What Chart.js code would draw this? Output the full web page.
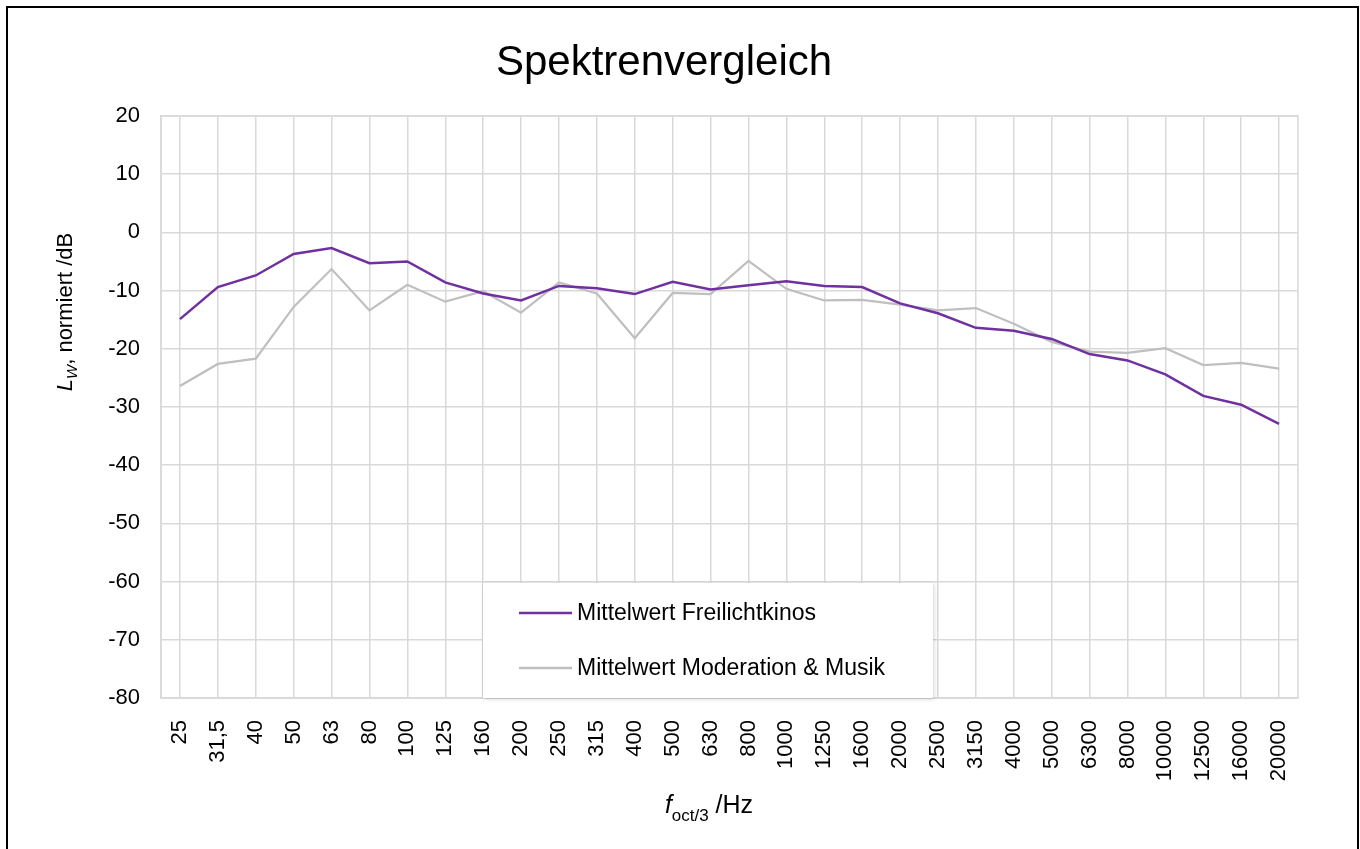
<!DOCTYPE html>
<html>
<head>
<meta charset="utf-8">
<title>Spektrenvergleich</title>
<script src="https://cdn.jsdelivr.net/npm/chart.js@4.4.0/dist/chart.umd.min.js"></script>
<style>
    html, body { margin: 0; padding: 0; background: #fff; }
    #wrap { position: relative; width: 1360px; height: 849px; }
</style>
</head>
<body>
<div id="wrap"><canvas id="spektren" width="1360" height="849"></canvas></div>
<script>
const frequencies = ['25', '31,5', '40', '50', '63', '80', '100', '125', '160', '200',
    '250', '315', '400', '500', '630', '800', '1000', '1250', '1600', '2000',
    '2500', '3150', '4000', '5000', '6300', '8000', '10000', '12500', '16000', '20000'];

const freilichtkinos = [-14.9, -9.4, -7.4, -3.7, -2.7, -5.3, -5.0, -8.6, -10.5, -11.7,
    -9.2, -9.6, -10.6, -8.5, -9.8, -9.1, -8.4, -9.2, -9.4, -12.2,
    -13.9, -16.4, -16.9, -18.3, -20.9, -22.0, -24.4, -28.1, -29.6, -32.9];

const moderationMusik = [-26.4, -22.6, -21.7, -12.8, -6.3, -13.4, -9.0, -11.9, -10.1, -13.8,
    -8.6, -10.5, -18.2, -10.4, -10.6, -4.9, -9.7, -11.7, -11.6, -12.4,
    -13.4, -13.0, -15.7, -18.8, -20.5, -20.7, -19.9, -22.8, -22.4, -23.4];

const seriesNames = ['Mittelwert Freilichtkinos', 'Mittelwert Moderation & Musik'];
const seriesColors = ['#7030A0', '#BFBFBF'];

const FONT = 'Arial, "Liberation Sans", sans-serif';

// draws the frame, the plot border, the axis titles (with subscripts) and the legend box
const excelLook = {
    id: 'excelLook',

    beforeDatasetsDraw(chart) {
        const { ctx, chartArea: a } = chart;
        ctx.save();
        ctx.strokeStyle = '#d9d9d9';
        ctx.lineWidth = 1.5;
        ctx.strokeRect(a.left, a.top, a.right - a.left, a.bottom - a.top);
        ctx.restore();
    },

    afterDraw(chart) {
        const { ctx, chartArea: a } = chart;
        ctx.save();

        // legend box
        ctx.shadowColor = 'rgba(0,0,0,0.18)';
        ctx.shadowBlur = 4;
        ctx.shadowOffsetX = 1;
        ctx.shadowOffsetY = 1;
        ctx.fillStyle = '#fff';
        ctx.fillRect(483, 583, 450, a.bottom - 583);
        ctx.shadowColor = 'transparent';

        ctx.font = '23px ' + FONT;
        ctx.textBaseline = 'middle';
        ctx.textAlign = 'left';
        const rows = [613, 668];
        seriesNames.forEach((name, i) => {
            ctx.strokeStyle = seriesColors[i];
            ctx.lineWidth = 2.5;
            ctx.beginPath();
            ctx.moveTo(519, rows[i]);
            ctx.lineTo(572, rows[i]);
            ctx.stroke();
            ctx.fillStyle = '#000';
            ctx.fillText(name, 577, rows[i] + 1);
        });

        // y axis title: L_W, normiert /dB
        ctx.save();
        ctx.translate(72, 312);
        ctx.rotate(-Math.PI / 2);
        ctx.textBaseline = 'alphabetic';
        const yParts = [
            { t: 'L', f: 'italic 22px ' + FONT, dy: 0 },
            { t: 'W', f: 'italic 15px ' + FONT, dy: 5 },
            { t: ', normiert /dB', f: '22px ' + FONT, dy: 0 }
        ];
        this.drawParts(ctx, yParts);
        ctx.restore();

        // x axis title: f_oct/3 /Hz
        ctx.save();
        ctx.translate(709, 813);
        ctx.textBaseline = 'alphabetic';
        const xParts = [
            { t: 'f', f: 'italic 25px ' + FONT, dy: 0 },
            { t: 'oct/3', f: '17px ' + FONT, dy: 8 },
            { t: ' /Hz', f: '25px ' + FONT, dy: 0 }
        ];
        this.drawParts(ctx, xParts);
        ctx.restore();

        // outer frame
        ctx.strokeStyle = '#000';
        ctx.lineWidth = 2;
        ctx.strokeRect(7, 7, 1351, 900);

        ctx.restore();
    },

    drawParts(ctx, parts) {
        let total = 0;
        parts.forEach(p => { ctx.font = p.f; total += ctx.measureText(p.t).width; });
        let x = -total / 2;
        ctx.fillStyle = '#000';
        parts.forEach(p => {
            ctx.font = p.f;
            ctx.fillText(p.t, x, p.dy);
            x += ctx.measureText(p.t).width;
        });
    }
};

const ctx = document.getElementById('spektren').getContext('2d');
new Chart(ctx, {
    type: 'line',
    data: {
        labels: frequencies,
        datasets: [
            {
                label: seriesNames[0],
                data: freilichtkinos,
                borderColor: seriesColors[0],
                borderWidth: 2.5,
                pointRadius: 0,
                tension: 0,
                fill: false
            },
            {
                label: seriesNames[1],
                data: moderationMusik,
                borderColor: seriesColors[1],
                borderWidth: 2.25,
                pointRadius: 0,
                tension: 0,
                fill: false
            }
        ]
    },
    options: {
        responsive: false,
        animation: false,
        events: [],
        layout: { padding: { top: 0, left: 30, right: 62, bottom: 0 } },
        plugins: {
            legend: { display: false },
            tooltip: { enabled: false },
            title: {
                display: true,
                text: 'Spektrenvergleich',
                color: '#000',
                font: { family: FONT, size: 42, weight: 'normal', lineHeight: 1.2 },
                padding: { top: 38, bottom: 27.6 }
            }
        },
        scales: {
            x: {
                offset: true,
                grid: { color: '#d9d9d9', lineWidth: 1.5, drawTicks: false, offset: false },
                border: { display: true, color: '#d9d9d9', width: 1.5 },
                ticks: {
                    color: '#000',
                    font: { family: FONT, size: 22 },
                    minRotation: 90,
                    maxRotation: 90,
                    autoSkip: false,
                    padding: 22
                },
                afterFit(scale) { scale.height = 151; }
            },
            y: {
                min: -80,
                max: 20,
                grid: {
                    drawTicks: false,
                    lineWidth: 1.5,
                    color: (c) => (c.tick && c.tick.value % 10 === 0) ? '#d9d9d9' : '#efefef'
                },
                border: { display: true, color: '#d9d9d9', width: 1.5 },
                ticks: {
                    stepSize: 5,
                    color: '#000',
                    font: { family: FONT, size: 22 },
                    padding: 21,
                    callback: (v) => v % 10 === 0 ? String(v) : ''
                },
                afterFit(scale) { scale.width = 131; }
            }
        }
    },
    plugins: [excelLook]
});
</script>
</body>
</html>
